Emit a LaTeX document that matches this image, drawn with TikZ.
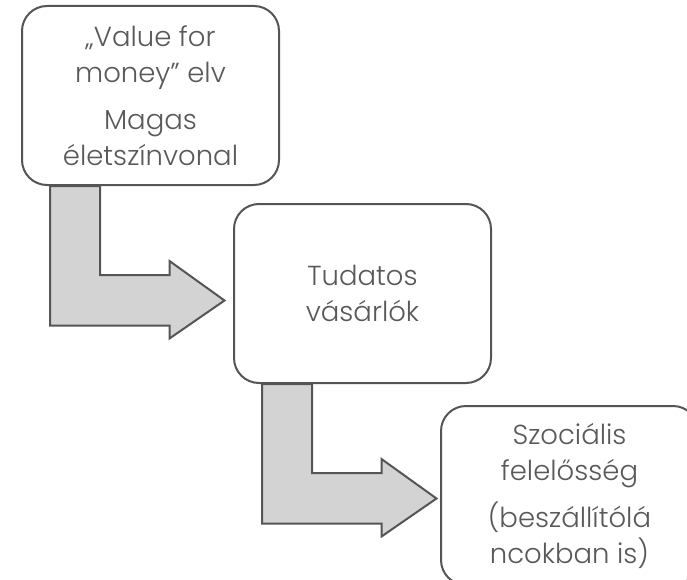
\documentclass[tikz,border=0pt]{standalone}
\usepackage{fontspec}
\setmainfont{Poppins Light}
\usetikzlibrary{positioning, calc}
\definecolor{edgegray}{HTML}{555555}
\definecolor{textgray}{HTML}{595959}
\definecolor{arrowfill}{HTML}{D3D3D3}
\tikzstyle{stage} = [rectangle, rounded corners=25pt, minimum width=257pt, minimum height=179pt, text centered, align=center, draw=edgegray, line width=2pt, fill=white, text=textgray, font=\fontsize{27.5}{36}\selectfont]
\tikzstyle{bent} = [draw=edgegray, line width=2pt, fill=arrowfill, line join=miter]

\begin{document}
\begin{tikzpicture}[x=1pt, y=-1pt]
    \useasboundingbox (0,0) rectangle (687,580);
    \node (values) [stage] at (150.5,95.5) {„Value for\\money” elv\\[11pt]Magas\\életszínvonal};
    \node (buyers) [stage] at (362.5,293.5) {Tudatos\\vásárlók};
    \node (social) [stage] at (569.5,495.5) {Szociális\\felelősség\\[11pt](beszállítólá\\ncokban is)};

    % bent arrows between the stages
    \draw [bent] ($(values.south west)+(29,0)$) -- ++(0,139.5) -- ++(119.5,0) -- ++(0,13) -- ++(55,-38) -- ++(-55,-39.5) -- ++(0,14) -- ++(-69.5,0) -- ++(0,-89) -- cycle;
    \draw [bent] ($(buyers.south west)+(29,0)$) -- ++(0,139.5) -- ++(119.5,0) -- ++(0,13) -- ++(55,-38) -- ++(-55,-39.5) -- ++(0,14) -- ++(-69.5,0) -- ++(0,-89) -- cycle;
\end{tikzpicture}
\end{document}
